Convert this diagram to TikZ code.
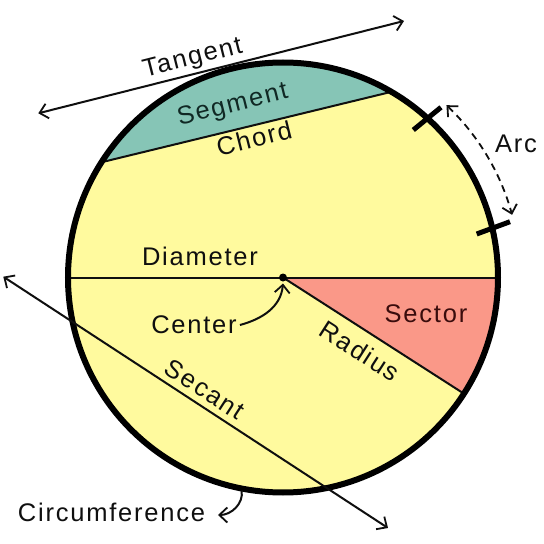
\documentclass[tikz,border=0pt]{standalone}
\usepackage{fontspec}
\setmainfont{Liberation Sans}[LetterSpace=7]
\usetikzlibrary{arrows.meta}
\definecolor{cyellow}{RGB}{255,250,158}
\definecolor{cteal}{RGB}{134,197,182}
\definecolor{csector}{RGB}{250,152,136}
\definecolor{ctealtext}{RGB}{16,40,36}
\definecolor{csectortext}{RGB}{58,12,12}
\definecolor{cink}{RGB}{15,15,15}
\begin{document}
\begin{tikzpicture}[x=1pt,y=1pt,
  lbl/.style={inner sep=0pt, text height=18.3pt, text depth=0pt, font=\fontsize{25.5}{30}\selectfont, text=cink},
  thinline/.style={line width=2pt, draw=cink},
  tip/.style={-{Straight Barb[length=8pt,width=15pt,line width=1.8pt]}},
  tips/.style={{Straight Barb[length=8pt,width=15pt,line width=1.8pt]}-{Straight Barb[length=8pt,width=15pt,line width=1.8pt]}},
  tick/.style={line width=5pt, draw=black}
]
\useasboundingbox (-283,-266.5) rectangle (261,277.5);
\fill[white] (-283,-266.5) rectangle (261,277.5);
% circle fill
\fill[cyellow] (0,0) circle (215);
% segment
\fill[cteal] (60:214) arc (60:147.3:214) -- cycle;
% sector
\fill[csector] (0,0) -- (0:214) arc (0:-32.7:214) -- cycle;
% chord, diameter, radius
\coordinate (chA) at (147.3:214);
\coordinate (chB) at (60:214);
\coordinate (dL) at (180:214);
\coordinate (dR) at (0:214);
\coordinate (rE) at (-32.7:214);
\draw[thinline] (chA) -- (chB);
\draw[thinline] (dL) -- (dR);
\draw[thinline] (0,0) -- (rE);
% circumference
\draw[line width=6pt, draw=black] (0,0) circle (215);
% center dot
\node[circle, fill=black, inner sep=0pt, minimum size=8pt] (ctr) at (0,0) {};
% tangent
\coordinate (tA) at (-244.7,164.2);
\coordinate (tB) at (121,256.5);
\draw[thinline, tips] (tA) -- (tB);
% secant
\coordinate (sA) at (-279.7,0.8);
\coordinate (sB) at (105,-250.5);
\draw[thinline, tips] (sA) -- (sB);
% arc ticks
\coordinate (t1a) at (130.3,147.5);
\coordinate (t1b) at (158,170.2);
\coordinate (t2a) at (193.7,43.5);
\coordinate (t2b) at (227,55.8);
\draw[tick] (t1a) -- (t1b);
\draw[tick] (t2a) -- (t2b);
% dashed arc
\draw[line width=1.8pt, draw=cink, dash pattern=on 7pt off 5pt, tips] (46.5:237.5) arc (46.5:15.3:237.5);
% labels
\node[lbl, rotate=14.2] (ltan) at (-91,221.5) {Tangent};
\node[lbl, rotate=14, text=ctealtext] (lseg) at (-51,174.5) {Segment};
\node[lbl, rotate=14] (lchord) at (-29,139.5) {Chord};
\node[lbl] (larc) at (233,134.5) {Arc};
\node[lbl] (ldiam) at (-83,21.5) {Diameter};
\node[lbl] (lcenter) at (-89,-46.5) {Center};
\node[lbl, text=csectortext] (lsector) at (143,-35.5) {Sector};
\node[lbl, rotate=-32.7] (lradius) at (77,-73.5) {Radius};
\node[lbl, rotate=-33] (lsecant) at (-78,-111.5) {Secant};
\node[lbl] (lcirc) at (-171.5,-234.5) {Circumference};
% center arrow
\coordinate (cArrEnd) at (0,-6);
\draw[thinline, tip] (lcenter.east) ++(3,-1) to[out=15, in=-95] (cArrEnd);
% circumference arrow
\coordinate (circPt) at (259:217);
\coordinate (circEnd) at (-65,-237.5);
\draw[thinline, tip] (circPt) to[out=-80, in=0] (circEnd);
\end{tikzpicture}
\end{document}
